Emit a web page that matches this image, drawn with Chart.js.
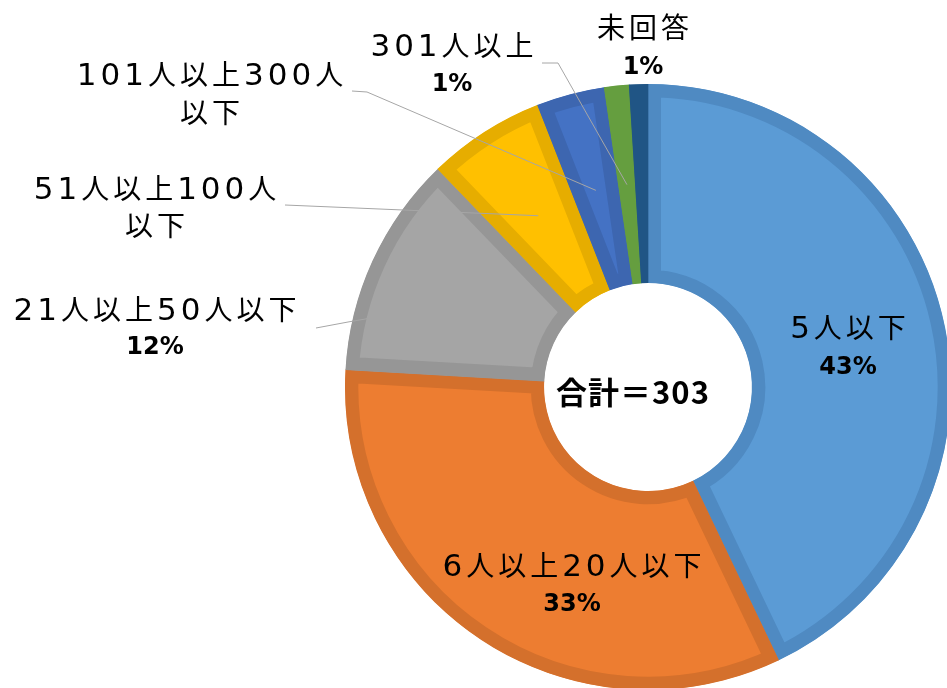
<!DOCTYPE html>
<html>
<head>
<meta charset="utf-8">
<script src="https://cdn.jsdelivr.net/npm/chart.js@4/dist/chart.umd.min.js"></script>
<style>
  html, body { margin: 0; padding: 0; background: #ffffff; overflow: hidden; width: 947px; height: 688px; }
  #wrap { position: absolute; left: 0; top: 0; width: 960px; height: 700px; }
</style>
</head>
<body>
<div id="wrap"><canvas id="c" width="960" height="700"></canvas></div>
<script>
// ---- data ----
const categories = ['5人以下', '6人以上20人以下', '21人以上50人以下', '51人以上100人以下', '101人以上300人以下', '301人以上', '未回答'];
const counts = [130, 100, 36, 19, 11, 4, 3];
const showPercent = [true, true, true, false, false, true, true];
const labelLines = [['5人以下'], ['6人以上20人以下'], ['21人以上50人以下'], ['51人以上100人', '以下'], ['101人以上300人', '以下'], ['301人以上'], ['未回答']];
const totalLabel = '合計＝303';

// ---- styles ----
const fillColors = ['#5B9BD5', '#ED7D31', '#A5A5A5', '#FFC000', '#4472C4', '#67A140', '#235A8C'];
const borderColors = ['#4F8AC2', '#D4702C', '#969696', '#E6AD00', '#3D66B0', '#659E3F', '#205585'];

// label layout (text placement, px) and leader-line start points
const labelLayout = [
  { x: 848, y: 327, gap: 41, lead: null },
  { x: 572, y: 565, gap: 40, lead: null },
  { x: 155, y: 309, gap: 39, lead: [[316, 328], [348, 322]] },
  { x: 155, y: 188, gap: 37, lead: [[285, 205]] },
  { x: 210, y: 74, gap: 38, lead: [[352, 91], [367, 92]] },
  { x: 452, y: 45, gap: 40, lead: [[542, 63], [558, 63]] },
  { x: 643, y: 27, gap: 41, lead: null }
];

const DIGIT_FONT = '31px "DejaVu Sans", sans-serif';
const CJK_FONT = '28px "Noto Sans CJK JP", sans-serif';
const CHAR_SPACING = 4;

const total = counts.reduce((a, b) => a + b, 0);

function drawRich(ctx, text, cx, cy) {
  const chars = Array.from(text);
  const items = chars.map((ch) => {
    const font = /[0-9]/.test(ch) ? DIGIT_FONT : CJK_FONT;
    ctx.font = font;
    return { ch, font, w: ctx.measureText(ch).width };
  });
  const width = items.reduce((s, it) => s + it.w, 0) + CHAR_SPACING * (items.length - 1);
  let x = cx - width / 2;
  ctx.textAlign = 'left';
  ctx.textBaseline = 'alphabetic';
  items.forEach((it) => {
    ctx.font = it.font;
    ctx.fillText(it.ch, x, cy + 11);
    x += it.w + CHAR_SPACING;
  });
}

const labelPlugin = {
  id: 'labels',
  afterDraw(chart) {
    const ctx = chart.ctx;
    const meta = chart.getDatasetMeta(0);
    ctx.save();
    // leader lines
    ctx.strokeStyle = '#A6A6A6';
    ctx.lineWidth = 1;
    meta.data.forEach((arc, i) => {
      const L = labelLayout[i];
      if (!L.lead) return;
      const c = arc.getCenterPoint();
      ctx.beginPath();
      ctx.moveTo(L.lead[0][0], L.lead[0][1]);
      for (let k = 1; k < L.lead.length; k++) ctx.lineTo(L.lead[k][0], L.lead[k][1]);
      ctx.lineTo(c.x, c.y);
      ctx.stroke();
    });
    // texts
    ctx.fillStyle = '#000000';
    meta.data.forEach((arc, i) => {
      const L = labelLayout[i];
      let y = L.y;
      labelLines[i].forEach((t) => {
        drawRich(ctx, t, L.x, y);
        y += L.gap;
      });
      if (showPercent[i]) {
        ctx.textAlign = 'center';
        ctx.textBaseline = 'middle';
        ctx.font = 'bold 24px "DejaVu Sans", sans-serif';
        const pct = Math.round(counts[i] / total * 100) + '%';
        ctx.fillText(pct, L.x, y);
      }
    });
    // center total
    ctx.textAlign = 'center';
    ctx.textBaseline = 'middle';
    ctx.letterSpacing = '1px';
    ctx.font = 'bold 31px "Noto Sans CJK JP", sans-serif';
    ctx.fillText(totalLabel, 633, 392);
    ctx.restore();
  }
};

new Chart(document.getElementById('c'), {
  type: 'doughnut',
  data: {
    labels: categories,
    datasets: [{
      data: counts,
      backgroundColor: fillColors,
      borderColor: borderColors,
      borderWidth: 13,
      borderAlign: 'inner',
      hoverBorderWidth: 13
    }]
  },
  options: {
    responsive: false,
    animation: false,
    devicePixelRatio: 1,
    cutout: '34.3%',
    layout: { padding: { left: 345, right: 9, top: 84, bottom: 10 } },
    plugins: { legend: { display: false }, tooltip: { enabled: false } },
    events: []
  },
  plugins: [labelPlugin]
});
</script>
</body>
</html>
